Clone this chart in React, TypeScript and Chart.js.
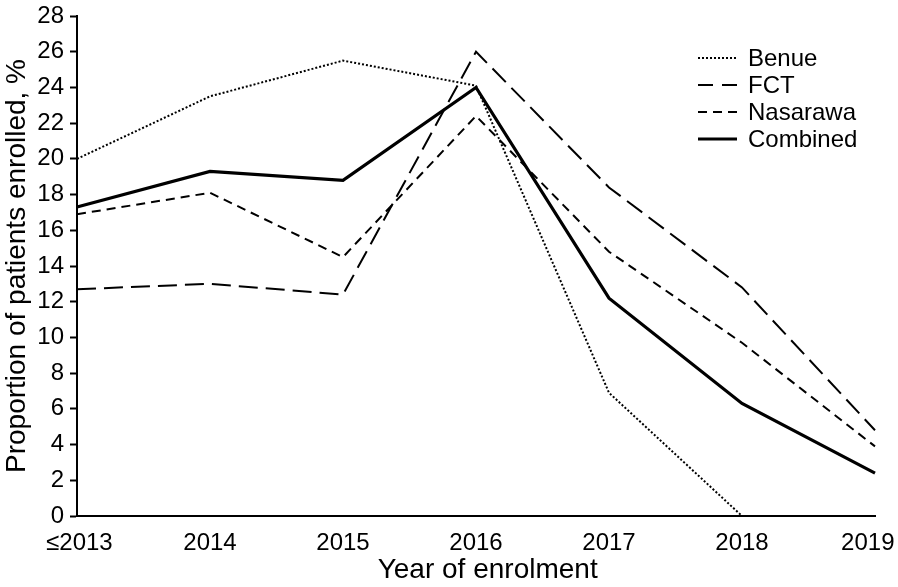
import React, { useEffect, useRef } from "react";
import { Chart, registerables } from "chart.js";

Chart.register(...registerables);

const categories = ["≤2013", "2014", "2015", "2016", "2017", "2018", "2019"];
const benue = [20.0, 23.5, 25.5, 24.1, 6.9, 0, 0];
const fct = [12.7, 13.0, 12.4, 26.0, 18.4, 12.8, 4.8];
const nasarawa = [16.9, 18.1, 14.5, 22.4, 14.8, 9.7, 3.9];
const combined = [17.3, 19.3, 18.8, 24.0, 12.2, 6.3, 2.4];
const yTicks = [0, 2, 4, 6, 8, 10, 12, 14, 16, 18, 20, 22, 24, 26, 28];

const FONT = "'Liberation Sans', Arial, sans-serif";

const legendPlugin = {
  id: "insideLegend",
  afterDraw(chart: any) {
    const ctx = chart.ctx;
    const x0 = 698;
    const lineLen = 39;
    const textX = 748;
    const y0 = 58;
    const step = 27;
    ctx.save();
    chart.data.datasets.forEach((ds: any, i: number) => {
      const y = y0 + i * step;
      ctx.beginPath();
      ctx.setLineDash(ds.legendDash || ds.borderDash || []);
      ctx.lineWidth = ds.borderWidth;
      ctx.strokeStyle = "#000";
      ctx.lineCap = "butt";
      ctx.moveTo(x0, y);
      ctx.lineTo(x0 + lineLen, y);
      ctx.stroke();
      ctx.setLineDash([]);
      ctx.fillStyle = "#000";
      ctx.font = `24px ${FONT}`;
      ctx.textBaseline = "middle";
      ctx.textAlign = "left";
      ctx.fillText(ds.label, textX, y + 1);
    });
    ctx.restore();
  },
};

export default function App() {
  const ref = useRef<HTMLCanvasElement | null>(null);
  useEffect(() => {
    document.body.style.margin = "0";
    if (!ref.current) return;
    const last = categories.length - 1;
    const chart = new Chart(ref.current, {
      type: "line",
      data: {
        labels: categories,
        datasets: [
          { label: "Benue", data: benue, borderColor: "#000", borderWidth: 2, borderDash: [2, 2], legendDash: [2, 2], clip: false } as any,
          { label: "FCT", data: fct, borderColor: "#000", borderWidth: 2, borderDash: [19, 8], legendDash: [15, 9], clip: false } as any,
          { label: "Nasarawa", data: nasarawa, borderColor: "#000", borderWidth: 2, borderDash: [9, 6], legendDash: [9, 6], clip: false } as any,
          { label: "Combined", data: combined, borderColor: "#000", borderWidth: 3.2, clip: false } as any,
        ],
      },
      options: {
        animation: false,
        responsive: false,
        maintainAspectRatio: false,
        elements: { point: { radius: 0 }, line: { tension: 0 } },
        layout: { padding: { left: 0, top: 16, right: 23, bottom: 0 } },
        plugins: { legend: { display: false }, tooltip: { enabled: false } },
        scales: {
          x: {
            offset: false,
            grid: { display: false },
            border: { display: true, color: "#000", width: 2 },
            ticks: {
              color: "#000",
              font: { family: FONT, size: 24 },
              padding: 5,
              maxRotation: 0,
              callback: (_v: any, i: number) =>
                i === 0 ? "\u2009" + categories[i] : i === last ? categories[i] + "\u2009\u2009\u2009" : categories[i],
            },
            title: { display: true, text: "\u00a0\u00a0\u00a0Year of enrolment", color: "#000", font: { family: FONT, size: 28 }, padding: { top: 0, bottom: 0 } },
            afterFit(scale: any) {
              scale.height = 71;
              scale.paddingLeft = 0;
              scale.paddingRight = 0;
            },
          },
          y: {
            min: 0,
            max: 28,
            afterBuildTicks(scale: any) { scale.ticks = yTicks.map((v) => ({ value: v })); },
            grid: { display: true, drawOnChartArea: false, drawTicks: true, tickLength: 7, tickWidth: 2, color: "#000" },
            border: { display: true, color: "#000", width: 2 },
            ticks: { color: "#000", font: { family: FONT, size: 24 }, padding: 6 },
            title: { display: true, text: "Proportion of patients enrolled, %", color: "#000", font: { family: FONT, size: 28 }, padding: { top: 0, bottom: 0 } },
            afterFit(scale: any) {
              scale.width = 77;
              scale.paddingTop = 0;
              scale.paddingBottom = 0;
            },
          },
        },
      },
      plugins: [legendPlugin],
    });
    return () => chart.destroy();
  }, []);
  return <canvas ref={ref} width={898} height={587} style={{ display: "block" }} />;
}
